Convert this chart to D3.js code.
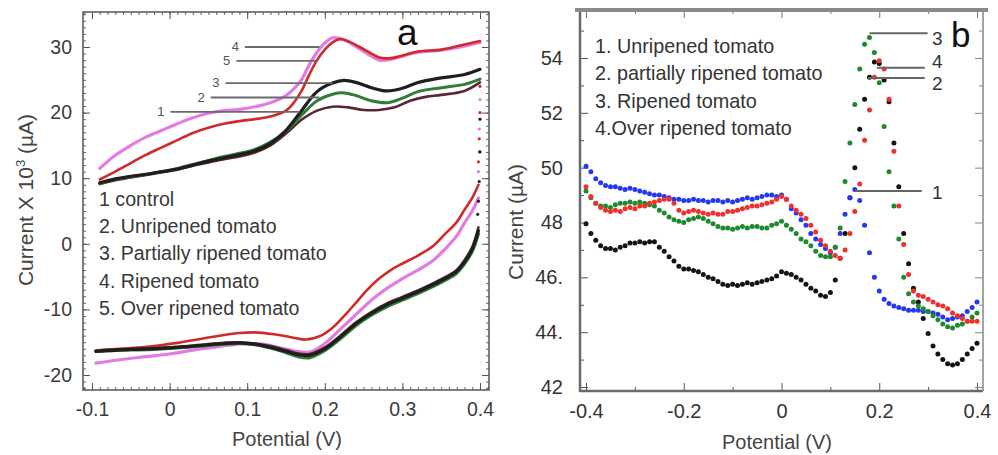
<!DOCTYPE html>
<html>
<head>
<meta charset="utf-8">
<script src="https://cdn.jsdelivr.net/npm/d3@7"></script>
<style>
    body { margin: 0; background: #fff; }
    svg text { font-family: "Liberation Sans", Arial, sans-serif; }
</style>
</head>
<body>
<div id="chart"></div>
<script>
// ---------- panel a : cyclic voltammograms (Potential V, Current x10^3 uA) ----------
var a_names = ['1 control', '2. Unripened  tomato', '3. Partially ripened tomato', '4. Ripened  tomato', '5. Over ripened  tomato'];
var a_xticks = [-0.1, 0, 0.1, 0.2, 0.3, 0.4];
var a_xlabels = ['-0.1', '0', '0.1', '0.2', '0.3', '0.4'];
var a_yticks = [-20, -10, 0, 10, 20, 30];
var a_ylabels = ['-20', '-10', '0', '10', '20', '30'];

// forward scans
var fwd_control = [[-0.09,9.1],[-0.07,9.7],[-0.05,10.1],[-0.03,10.5],[-0.01,10.9],[0.01,11.3],[0.03,11.9],[0.05,12.4],[0.07,12.9],[0.09,13.3],[0.11,13.9],[0.13,15],[0.15,16.8],[0.17,18.9],[0.19,20.3],[0.21,20.9],[0.23,20.8],[0.25,20.4],[0.27,20.4],[0.29,20.8],[0.31,21.8],[0.33,22.4],[0.35,22.7],[0.38,23.3],[0.4,24.6]];
var fwd_unripe = [[-0.09,9.2],[-0.07,9.8],[-0.05,10.2],[-0.03,10.6],[-0.01,11],[0.01,11.5],[0.03,12.1],[0.05,12.7],[0.07,13.3],[0.09,13.8],[0.11,14.4],[0.13,15.5],[0.15,17.2],[0.17,19.6],[0.19,21.8],[0.21,22.8],[0.225,23],[0.24,22.6],[0.26,21.8],[0.28,21.5],[0.3,22.2],[0.32,23.2],[0.35,23.8],[0.38,24.3],[0.4,25.1]];
var fwd_partial = [[-0.09,9.3],[-0.07,9.9],[-0.05,10.3],[-0.03,10.6],[-0.01,11],[0.01,11.4],[0.03,12],[0.05,12.6],[0.07,13.1],[0.09,13.6],[0.11,14.2],[0.13,15.3],[0.15,17.3],[0.17,20.3],[0.19,23.2],[0.21,24.5],[0.225,24.9],[0.24,24.6],[0.26,23.8],[0.28,23.3],[0.3,23.7],[0.32,24.6],[0.35,25.3],[0.38,25.8],[0.4,26.6]];
var fwd_ripe = [[-0.09,11.5],[-0.07,13.5],[-0.05,15],[-0.03,16.3],[-0.01,17.3],[0.01,18.3],[0.03,19.2],[0.05,19.9],[0.07,20.3],[0.09,20.5],[0.11,20.9],[0.13,21.5],[0.15,22.6],[0.16,23.6],[0.17,25],[0.18,27.3],[0.19,29.2],[0.2,30.6],[0.21,31.4],[0.22,31.3],[0.23,30.8],[0.245,29.7],[0.26,28.6],[0.27,28],[0.285,28.1],[0.3,28.6],[0.32,29.2],[0.35,29.5],[0.37,29.9],[0.4,30.7]];
var fwd_over = [[-0.09,9.8],[-0.07,11],[-0.05,12.3],[-0.03,13.6],[-0.01,14.7],[0.01,15.8],[0.03,16.9],[0.05,17.7],[0.07,18.3],[0.09,18.7],[0.11,19],[0.13,19.4],[0.15,20.3],[0.16,21.5],[0.17,23.3],[0.18,25.8],[0.19,28],[0.2,29.6],[0.21,30.7],[0.22,31.2],[0.23,30.9],[0.245,30],[0.26,29],[0.27,28.4],[0.285,28.3],[0.3,28.7],[0.32,29.3],[0.35,29.6],[0.37,30.1],[0.4,30.9]];

// reverse scans
var rev_control = [[0.398,2.5],[0.39,-0.5],[0.38,-2.5],[0.37,-4],[0.355,-5.1],[0.34,-6],[0.32,-7.1],[0.3,-8.1],[0.28,-9.1],[0.26,-10.4],[0.24,-12],[0.22,-14],[0.2,-15.8],[0.18,-16.8],[0.165,-16.7],[0.15,-16.2],[0.13,-15.6],[0.11,-15.2],[0.09,-15],[0.07,-15.1],[0.04,-15.4],[0.01,-15.7],[-0.02,-15.9],[-0.05,-16],[-0.08,-16.2],[-0.095,-16.3]];
var rev_unripe = [[0.398,1.5],[0.39,-1.2],[0.38,-3.1],[0.37,-4.5],[0.355,-5.6],[0.34,-6.5],[0.32,-7.6],[0.3,-8.6],[0.28,-9.6],[0.26,-10.9],[0.24,-12.5],[0.22,-14.5],[0.2,-16.3],[0.18,-17.4],[0.165,-17.2],[0.15,-16.6],[0.13,-15.9],[0.11,-15.4],[0.09,-15.2],[0.07,-15.3],[0.04,-15.6],[0.01,-15.9],[-0.02,-16.1],[-0.05,-16.2],[-0.08,-16.3],[-0.095,-16.4]];
var rev_partial = [[0.398,2],[0.39,-0.8],[0.38,-2.8],[0.37,-4.2],[0.355,-5.3],[0.34,-6.2],[0.32,-7.3],[0.3,-8.3],[0.28,-9.3],[0.26,-10.6],[0.24,-12.2],[0.22,-14.2],[0.2,-16],[0.18,-17],[0.165,-16.9],[0.15,-16.4],[0.13,-15.8],[0.11,-15.3],[0.09,-15.1],[0.07,-15.2],[0.04,-15.5],[0.01,-15.8],[-0.02,-16],[-0.05,-16.1],[-0.08,-16.3],[-0.095,-16.4]];
var rev_ripe = [[0.398,7],[0.39,5],[0.38,3.2],[0.37,1.2],[0.355,-0.8],[0.34,-2.5],[0.32,-4],[0.3,-5.3],[0.28,-6.8],[0.26,-8.6],[0.24,-10.8],[0.22,-13],[0.2,-15.2],[0.18,-16.5],[0.16,-16.3],[0.14,-15.8],[0.12,-15.3],[0.1,-15.2],[0.08,-15.4],[0.06,-15.7],[0.03,-16.2],[0,-16.8],[-0.03,-17.2],[-0.06,-17.6],[-0.095,-18.2]];
var rev_over = [[0.398,9],[0.39,7],[0.38,5.2],[0.37,3.3],[0.355,1.5],[0.34,-0.3],[0.32,-1.8],[0.3,-3],[0.285,-4],[0.27,-5.3],[0.255,-7],[0.24,-9],[0.225,-11],[0.21,-12.8],[0.195,-14],[0.175,-14.6],[0.155,-14.2],[0.135,-13.8],[0.11,-13.5],[0.09,-13.6],[0.07,-13.9],[0.04,-14.5],[0.01,-15.1],[-0.02,-15.6],[-0.05,-15.9],[-0.08,-16.1],[-0.095,-16.3]];

// sparse points at the switching potential (0.4 V)
var turn_partial = [[0.4,19],[0.4,14],[0.399,9.5],[0.398,6.5],[0.397,4.5]];
var turn_ripe = [[0.4,22],[0.399,17.5],[0.399,14],[0.398,11]];
var turn_over = [[0.4,24],[0.4,20],[0.399,16],[0.398,12.5]];

// leader lines of panel a: label, from V, to V, at current
var a_anno_labels = ['4', '5', '3', '2', '1'];
var a_anno_from = [0.097, 0.086, 0.072, 0.053, 0.001];
var a_anno_to = [0.193, 0.191, 0.21, 0.193, 0.168];
var a_anno_level = [30.0, 27.9, 24.5, 22.3, 20.1];

// ---------- panel b : DPV (Potential V, Current uA) ----------
var b_names = ['1. Unripened tomato', '2. partially ripened tomato', '3. Ripened tomato', '4.Over ripened tomato'];
var b_xticks = [-0.4, -0.2, 0, 0.2, 0.4];
var b_xlabels = ['-0.4', '-0.2', '0', '0.2', '0.4'];
var b_yticks = [42, 44, 46, 48, 50, 52, 54];
var b_ylabels = ['42', '44.', '46.', '48', '50', '52', '54'];

var potential_b = [-0.40,-0.39,-0.38,-0.37,-0.36,-0.35,-0.34,-0.33,-0.32,-0.31,-0.30,-0.29,-0.28,-0.27,-0.26,-0.25,-0.24,-0.23,-0.22,-0.21,
    -0.20,-0.19,-0.18,-0.17,-0.16,-0.15,-0.14,-0.13,-0.12,-0.11,-0.10,-0.09,-0.08,-0.07,-0.06,-0.05,-0.04,-0.03,-0.02,-0.01,
    0.00,0.01,0.02,0.03,0.04,0.05,0.06,0.07,0.08,0.09,0.10,0.11,0.12,0.13,0.14,0.15,0.16,0.17,0.18,0.19,
    0.20,0.21,0.22,0.23,0.24,0.25,0.26,0.27,0.28,0.29,0.30,0.31,0.32,0.33,0.34,0.35,0.36,0.37,0.38,0.39,0.40];

var cur_blue = [50.05,49.85,49.6,49.45,49.35,49.3,49.3,49.25,49.2,49.25,49.2,49.15,49.1,49.05,49.0,49.0,48.95,48.9,48.85,48.85,
    48.8,48.8,48.85,48.8,48.8,48.75,48.8,48.8,48.75,48.8,48.75,48.8,48.85,48.9,48.85,48.9,48.95,49.0,49.0,48.95,
    49.0,48.85,48.5,48.35,48.1,47.9,47.6,47.4,47.2,47.05,46.9,47.1,47.6,48.3,48.9,49.2,48.8,47.9,46.9,46.0,
    45.5,45.2,45.05,44.95,44.9,44.85,44.8,44.8,44.8,44.75,44.75,44.7,44.65,44.55,44.45,44.5,44.55,44.6,44.75,44.9,45.1];
var cur_red = [49.3,48.95,48.7,48.55,48.45,48.4,48.45,48.4,48.5,48.55,48.5,48.6,48.6,48.7,48.75,48.8,48.85,48.85,48.7,48.45,
    48.35,48.4,48.45,48.4,48.35,48.3,48.35,48.3,48.3,48.4,48.4,48.45,48.5,48.55,48.6,48.6,48.65,48.7,48.75,48.85,
    48.95,48.85,48.6,48.45,48.3,48.15,47.9,47.65,47.35,47.15,46.95,46.8,46.7,47.0,47.6,48.4,49.4,51.0,52.1,53.3,
    53.9,53.6,52.5,50.6,48.6,47.2,46.1,45.5,45.35,45.3,45.2,45.1,45.0,44.95,44.85,44.7,44.6,44.5,44.4,44.4,44.4];
var cur_green = [49.15,48.9,48.7,48.6,48.6,48.55,48.65,48.7,48.7,48.75,48.7,48.75,48.7,48.65,48.6,48.45,48.35,48.2,48.1,48.05,
    48.0,48.1,48.15,48.2,48.15,48.05,47.95,47.85,47.8,47.8,47.75,47.8,47.85,47.8,47.85,47.85,47.8,47.8,47.9,47.95,
    48.05,47.9,47.75,47.6,47.4,47.3,47.15,46.95,46.8,46.75,46.75,47.1,47.8,49.5,50.9,52.3,53.6,54.5,54.75,54.2,
    53.1,51.5,49.85,48.6,47.4,46.0,45.4,45.1,44.95,44.85,44.75,44.6,44.45,44.3,44.2,44.15,44.25,44.3,44.4,44.55,44.7];
var cur_black = [47.95,47.6,47.35,47.15,47.05,47.05,47.0,47.1,47.15,47.25,47.25,47.3,47.25,47.3,47.3,47.1,46.95,46.75,46.6,46.4,
    46.3,46.3,46.25,46.2,46.1,46.0,45.95,45.85,45.75,45.7,45.75,45.7,45.75,45.8,45.75,45.8,45.85,45.9,45.95,46.05,
    46.2,46.15,46.1,46.0,45.9,45.75,45.6,45.5,45.35,45.3,45.45,45.9,46.7,47.6,48.9,50.0,51.4,52.5,53.3,53.85,
    53.8,53.2,52.4,50.9,49.3,47.6,46.5,45.6,45.1,44.5,43.95,43.5,43.2,43.0,42.85,42.8,42.85,43.0,43.2,43.4,43.6];

// leader lines of panel b
var b_anno_labels = ['3', '4', '2', '1'];
var b_anno_from = [0.18, 0.195, 0.177, 0.15];
var b_anno_to = [0.299, 0.293, 0.293, 0.287];
var b_anno_level = [54.9, 53.64, 53.27, 49.15];

// ---------------------------------------------------------------------
var svg = d3.select('#chart').append('svg')
    .attr('width', 998)
    .attr('height', 455);
svg.append('rect').attr('width', 998).attr('height', 455).attr('fill', '#fff');

var frameA = { left: 83, right: 489, top: 12, bottom: 390 };
var frameB = { left: 580, right: 983, top: 10, bottom: 391 };

var xA = d3.scaleLinear().domain([-0.1, 0.4]).range([92, 480]);
var yA = d3.scaleLinear().domain([-20, 30]).range([375, 47]);
var xB = d3.scaleLinear().domain([-0.4, 0.4]).range([586, 977]);
var yB = d3.scaleLinear().domain([42, 54]).range([387, 58]);

function tick_axis(g, axis, color) {
    g.call(axis).attr('color', color)
        .attr('font-size', null).attr('font-family', null);
    g.select('.domain').remove();
}

function panel_a() {
    var g = svg.append('g');
    var minorX = d3.range(-110, 411, 10).map(d => d / 1000);
    var minorY = d3.range(-22, 36, 1);

    // minor ticks all round
    tick_axis(g.append('g').attr('transform', `translate(0,${frameA.bottom})`),
        d3.axisBottom(xA).tickValues(minorX).tickSize(-3).tickFormat(''), '#666');
    tick_axis(g.append('g').attr('transform', `translate(0,${frameA.top})`),
        d3.axisTop(xA).tickValues(minorX).tickSize(-3).tickFormat(''), '#666');
    tick_axis(g.append('g').attr('transform', `translate(${frameA.left},0)`),
        d3.axisLeft(yA).tickValues(minorY).tickSize(-3).tickFormat(''), '#666');
    tick_axis(g.append('g').attr('transform', `translate(${frameA.right},0)`),
        d3.axisRight(yA).tickValues(minorY).tickSize(-3).tickFormat(''), '#666');

    // major ticks + labels
    var bx = g.append('g').attr('transform', `translate(0,${frameA.bottom})`);
    tick_axis(bx, d3.axisBottom(xA).tickValues(a_xticks).tickSize(-7).tickPadding(12)
        .tickFormat((d, i) => a_xlabels[i]), '#555');
    var ly = g.append('g').attr('transform', `translate(${frameA.left},0)`);
    tick_axis(ly, d3.axisLeft(yA).tickValues(a_yticks).tickSize(-7).tickPadding(11)
        .tickFormat((d, i) => a_ylabels[i]), '#555');
    tick_axis(g.append('g').attr('transform', `translate(0,${frameA.top})`),
        d3.axisTop(xA).tickValues(a_xticks).tickSize(-7).tickFormat(''), '#555');
    tick_axis(g.append('g').attr('transform', `translate(${frameA.right},0)`),
        d3.axisRight(yA).tickValues(a_yticks).tickSize(-7).tickFormat(''), '#555');
    g.selectAll('.tick text').attr('font-size', 19.5).attr('fill', '#3c3c3c');

    g.append('rect')
        .attr('x', frameA.left).attr('y', frameA.top)
        .attr('width', frameA.right - frameA.left).attr('height', frameA.bottom - frameA.top)
        .attr('fill', 'none').attr('stroke', '#555').attr('stroke-width', 1.5);

    // curves
    var line = d3.line().x(d => xA(d[0])).y(d => yA(d[1])).curve(d3.curveCatmullRom);
    var series = [
        { fwd: fwd_ripe, rev: rev_ripe, turn: turn_ripe, color: '#e27ce2', w: 3.2 },
        { fwd: fwd_over, rev: rev_over, turn: turn_over, color: '#cf2b2b', w: 2.6 },
        { fwd: fwd_control, rev: rev_control, turn: [], color: '#5a2633', w: 2.6 },
        { fwd: fwd_unripe, rev: rev_unripe, turn: [], color: '#2f7d36', w: 3 },
        { fwd: fwd_partial, rev: rev_partial, turn: turn_partial, color: '#1e1e1e', w: 3.2 }
    ];
    series.forEach(function (s) {
        [s.fwd, s.rev].forEach(function (arr) {
            g.append('path').attr('d', line(arr))
                .attr('fill', 'none').attr('stroke', s.color)
                .attr('stroke-width', s.w).attr('stroke-linejoin', 'round').attr('stroke-linecap', 'round');
        });
        g.selectAll(null).data(s.turn).enter().append('circle')
            .attr('cx', d => xA(d[0])).attr('cy', d => yA(d[1]))
            .attr('r', 1.6).attr('fill', s.color);
    });

    // leader lines
    a_anno_labels.forEach(function (lab, i) {
        g.append('line')
            .attr('x1', xA(a_anno_from[i])).attr('x2', xA(a_anno_to[i]))
            .attr('y1', yA(a_anno_level[i])).attr('y2', yA(a_anno_level[i]))
            .attr('stroke', '#6a6a6a').attr('stroke-width', 1.8);
        g.append('text')
            .attr('x', xA(a_anno_from[i]) - 6).attr('y', yA(a_anno_level[i]) + 4)
            .attr('text-anchor', 'end').attr('font-size', 13).attr('fill', '#555')
            .text(lab);
    });

    // legend
    g.selectAll('.leg-a').data(a_names).enter().append('text')
        .attr('x', 99).attr('y', (d, i) => 206 + i * 27.2)
        .attr('font-size', 19.6).attr('fill', '#383838')
        .text(d => d);

    // titles
    g.append('text').attr('x', 287).attr('y', 446).attr('text-anchor', 'middle')
        .attr('font-size', 20).attr('fill', '#444').text('Potential (V)');
    var yt = g.append('text').attr('transform', 'translate(33,200) rotate(-90)')
        .attr('text-anchor', 'middle').attr('font-size', 21).attr('fill', '#444');
    yt.append('tspan').text('Current X 10');
    yt.append('tspan').attr('font-size', 13).attr('dy', -8).text('3');
    yt.append('tspan').attr('dy', 8).text(' (\u00b5A)');

    g.append('text').attr('x', 397).attr('y', 45).attr('font-size', 37).attr('fill', '#111').text('a');
}

function panel_b() {
    var g = svg.append('g');
    var minorX = [-0.3, -0.1, 0.1, 0.3];
    var minorY = [43, 45, 47, 49, 51, 53, 55];

    tick_axis(g.append('g').attr('transform', `translate(0,${frameB.bottom})`),
        d3.axisBottom(xB).tickValues(minorX).tickSize(-4).tickFormat(''), '#555');
    tick_axis(g.append('g').attr('transform', `translate(0,${frameB.top})`),
        d3.axisTop(xB).tickValues(minorX).tickSize(-4).tickFormat(''), '#777');
    tick_axis(g.append('g').attr('transform', `translate(${frameB.left},0)`),
        d3.axisLeft(yB).tickValues(minorY).tickSize(-4).tickFormat(''), '#555');
    tick_axis(g.append('g').attr('transform', `translate(${frameB.right},0)`),
        d3.axisRight(yB).tickValues(minorY).tickSize(-4).tickFormat(''), '#888');

    var bx = g.append('g').attr('transform', `translate(0,${frameB.bottom})`);
    tick_axis(bx, d3.axisBottom(xB).tickValues(b_xticks).tickSize(-8).tickPadding(13)
        .tickFormat((d, i) => b_xlabels[i]), '#555');
    var ly = g.append('g').attr('transform', `translate(${frameB.left},0)`);
    tick_axis(ly, d3.axisLeft(yB).tickValues(b_yticks).tickSize(-8).tickPadding(17)
        .tickFormat((d, i) => b_ylabels[i]), '#555');
    tick_axis(g.append('g').attr('transform', `translate(0,${frameB.top})`),
        d3.axisTop(xB).tickValues(b_xticks).tickSize(-8).tickFormat(''), '#777');
    tick_axis(g.append('g').attr('transform', `translate(${frameB.right},0)`),
        d3.axisRight(yB).tickValues(b_yticks).tickSize(-8).tickFormat(''), '#888');
    g.selectAll('.tick text').attr('font-size', 20).attr('fill', '#333');

    // frame
    g.append('line').attr('x1', frameB.left).attr('x2', frameB.left)
        .attr('y1', frameB.top).attr('y2', frameB.bottom + 1)
        .attr('stroke', '#6a6a6a').attr('stroke-width', 2.5);
    g.append('line').attr('x1', frameB.left).attr('x2', frameB.right)
        .attr('y1', frameB.bottom).attr('y2', frameB.bottom)
        .attr('stroke', '#6a6a6a').attr('stroke-width', 2.5);
    g.append('line').attr('x1', frameB.right).attr('x2', frameB.right)
        .attr('y1', frameB.top).attr('y2', frameB.bottom)
        .attr('stroke', '#9a9a9a').attr('stroke-width', 1.8);
    g.append('line').attr('x1', 575).attr('x2', 988)
        .attr('y1', frameB.top).attr('y2', frameB.top)
        .attr('stroke', '#8a8a8a').attr('stroke-width', 4);

    var series = [
        { values: cur_black, color: '#141414' },
        { values: cur_blue, color: '#2438f2' },
        { values: cur_green, color: '#1f8a2c' },
        { values: cur_red, color: '#f0302c' }
    ];
    series.forEach(function (s) {
        g.selectAll(null).data(s.values).enter().append('circle')
            .attr('cx', (d, i) => xB(potential_b[i]))
            .attr('cy', d => yB(d))
            .attr('r', 2.5)
            .attr('fill', s.color);
    });

    b_anno_labels.forEach(function (lab, i) {
        g.append('line')
            .attr('x1', xB(b_anno_from[i])).attr('x2', xB(b_anno_to[i]))
            .attr('y1', yB(b_anno_level[i])).attr('y2', yB(b_anno_level[i]))
            .attr('stroke', '#666').attr('stroke-width', 2);
    });
    var digit_y = [45, 68, 90, 199];
    b_anno_labels.forEach(function (lab, i) {
        g.append('text').attr('x', 932).attr('y', digit_y[i])
            .attr('font-size', 19).attr('fill', '#333').text(lab);
    });

    g.selectAll('.leg-b').data(b_names).enter().append('text')
        .attr('x', 595).attr('y', (d, i) => 53 + i * 27.3)
        .attr('font-size', 19.8).attr('fill', '#333')
        .text(d => d);

    g.append('text').attr('x', 777).attr('y', 449).attr('text-anchor', 'middle')
        .attr('font-size', 20).attr('fill', '#444').text('Potential (V)');
    g.append('text').attr('transform', 'translate(523,222) rotate(-90)')
        .attr('text-anchor', 'middle').attr('font-size', 21).attr('fill', '#444')
        .text('Current  (\u00b5A)');

    g.append('text').attr('x', 951).attr('y', 47).attr('font-size', 35).attr('fill', '#111').text('b');
}

panel_a();
panel_b();
</script>
</body>
</html>
